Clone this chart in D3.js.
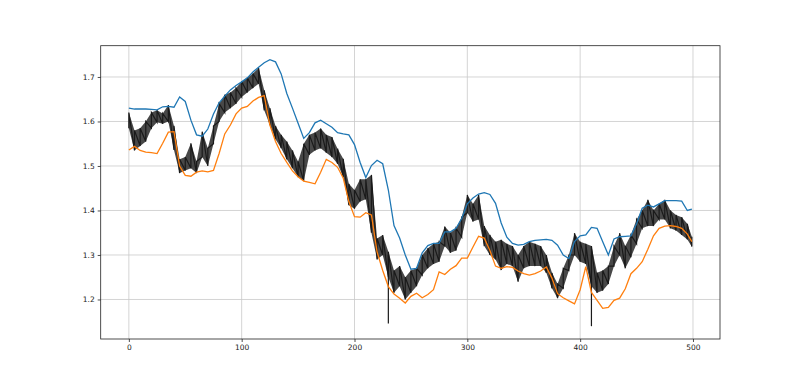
<!DOCTYPE html>
<html>
<head>
<meta charset="utf-8">
<script src="https://cdn.jsdelivr.net/npm/d3@7/dist/d3.min.js"></script>
<style>
  html, body { margin: 0; padding: 0; background: #fff; }
  svg { display: block; }
</style>
</head>
<body>
<svg id="chart" width="800" height="381"></svg>
<script>
// ---- data ----
const sampleIdx = [0,5,10,15,20,25,30,35,40,45,50,55,60,65,70,75,80,85,90,95,
  100,105,110,115,120,125,130,135,140,145,150,155,160,165,170,175,180,185,190,195,
  200,205,210,215,220,225,230,235,240,245,250,255,260,265,270,275,280,285,290,295,
  300,305,310,315,320,325,330,335,340,345,350,355,360,365,370,375,380,385,390,395,
  400,405,410,415,420,425,430,435,440,445,450,455,460,465,470,475,480,485,490,495,499];

const upperBand = [1.630,1.628,1.628,1.628,1.627,1.626,1.633,1.634,1.632,1.655,
  1.645,1.603,1.570,1.567,1.583,1.617,1.642,1.657,1.671,1.681,
  1.689,1.698,1.711,1.722,1.732,1.739,1.734,1.707,1.663,1.630,
  1.596,1.562,1.575,1.597,1.603,1.595,1.587,1.575,1.572,1.570,
  1.548,1.508,1.474,1.501,1.513,1.505,1.446,1.366,1.338,1.300,
  1.268,1.270,1.305,1.321,1.326,1.326,1.352,1.352,1.360,1.382,
  1.415,1.428,1.437,1.440,1.436,1.416,1.372,1.340,1.326,1.322,
  1.324,1.330,1.333,1.334,1.335,1.333,1.322,1.300,1.292,1.330,
  1.343,1.345,1.362,1.360,1.330,1.300,1.336,1.341,1.342,1.343,
  1.370,1.405,1.412,1.408,1.415,1.422,1.422,1.422,1.421,1.400,1.403];

const lowerBand = [1.536,1.544,1.535,1.531,1.530,1.528,1.551,1.576,1.577,1.500,
  1.479,1.477,1.486,1.489,1.487,1.490,1.528,1.572,1.592,1.617,
  1.630,1.634,1.646,1.654,1.658,1.592,1.555,1.528,1.508,1.489,
  1.476,1.466,1.463,1.460,1.486,1.515,1.508,1.497,1.473,1.420,
  1.386,1.385,1.395,1.390,1.307,1.265,1.229,1.212,1.203,1.192,
  1.207,1.214,1.204,1.211,1.222,1.262,1.256,1.268,1.276,1.293,
  1.293,1.318,1.342,1.338,1.310,1.275,1.270,1.274,1.272,1.264,
  1.258,1.255,1.258,1.264,1.273,1.248,1.213,1.204,1.197,1.190,
  1.222,1.274,1.216,1.198,1.180,1.182,1.198,1.203,1.224,1.258,
  1.270,1.285,1.313,1.343,1.360,1.365,1.366,1.364,1.360,1.347,1.330];

const priceHigh = [1.620,1.580,1.585,1.600,1.620,1.625,1.618,1.637,1.590,1.515,
  1.520,1.551,1.510,1.577,1.540,1.590,1.640,1.660,1.665,1.675,
  1.690,1.698,1.708,1.720,1.670,1.630,1.590,1.570,1.555,1.535,
  1.510,1.550,1.570,1.575,1.584,1.570,1.565,1.539,1.516,1.460,
  1.446,1.470,1.470,1.480,1.337,1.345,1.307,1.265,1.275,1.250,
  1.265,1.270,1.300,1.315,1.325,1.330,1.364,1.350,1.360,1.385,
  1.435,1.415,1.435,1.365,1.345,1.330,1.334,1.325,1.320,1.300,
  1.320,1.330,1.325,1.320,1.300,1.260,1.235,1.270,1.300,1.349,
  1.330,1.325,1.320,1.260,1.265,1.275,1.320,1.349,1.320,1.345,
  1.380,1.400,1.424,1.400,1.415,1.424,1.400,1.390,1.385,1.370,1.341];

const priceLow = [1.585,1.535,1.545,1.555,1.585,1.598,1.595,1.600,1.536,1.484,
  1.490,1.495,1.484,1.520,1.500,1.550,1.600,1.620,1.630,1.640,
  1.655,1.665,1.675,1.685,1.625,1.592,1.560,1.540,1.515,1.495,
  1.475,1.466,1.525,1.535,1.540,1.530,1.520,1.505,1.475,1.412,
  1.404,1.420,1.425,1.350,1.290,1.300,1.250,1.215,1.230,1.200,
  1.215,1.230,1.255,1.270,1.280,1.285,1.320,1.305,1.310,1.340,
  1.395,1.375,1.380,1.320,1.300,1.290,1.266,1.280,1.275,1.240,
  1.270,1.275,1.275,1.275,1.260,1.225,1.203,1.225,1.265,1.300,
  1.285,1.280,1.230,1.215,1.220,1.235,1.275,1.300,1.270,1.295,
  1.325,1.360,1.365,1.365,1.380,1.380,1.360,1.355,1.345,1.335,1.319];

// long lower wicks
const wickIdx = [230, 410];
const wickLow = [1.146, 1.140];
const wickTop = [1.300, 1.300];

const xTicks = [0, 100, 200, 300, 400, 500];
const yTicks = [1.2, 1.3, 1.4, 1.5, 1.6, 1.7];

// ---- layout ----
const svg = d3.select("#chart");
const L = 100.7, R = 720, T = 45.7, B = 339;

const x = d3.scaleLinear().domain([-24.95, 523.95]).range([L, R]);
const y = d3.scaleLinear().domain([1.1112, 1.7703]).range([B, T]);

// grid
const grid = svg.append("g");
grid.selectAll("line.gx").data(xTicks).join("line")
  .attr("x1", d => x(d)).attr("x2", d => x(d)).attr("y1", T).attr("y2", B)
  .attr("stroke", "#c9c9c9").attr("stroke-width", 0.8);
grid.selectAll("line.gy").data(yTicks).join("line")
  .attr("y1", d => y(d)).attr("y2", d => y(d)).attr("x1", L).attr("x2", R)
  .attr("stroke", "#c9c9c9").attr("stroke-width", 0.8);

const plot = svg.append("g");

// price range band
const priceArea = d3.area()
  .x((d, k) => x(sampleIdx[k]))
  .y0((d, k) => y(priceLow[k]))
  .y1((d, k) => y(priceHigh[k]));
plot.append("path").attr("d", priceArea(sampleIdx))
  .attr("fill", "#1a1a1a").attr("fill-opacity", 0.8).attr("stroke", "none");

// jagged trace: vertical range per sample, joined
const pricePts = [];
sampleIdx.forEach((d, k) => {
  pricePts.push([x(d), y(priceLow[k])]);
  pricePts.push([x(d), y(priceHigh[k])]);
});
plot.append("path")
  .attr("d", d3.line()(pricePts))
  .attr("fill", "none").attr("stroke", "#1a1a1a").attr("stroke-width", 1.2);

plot.selectAll("line.wick").data(wickIdx).join("line")
  .attr("x1", d => x(d)).attr("x2", d => x(d))
  .attr("y1", (d, k) => y(wickTop[k])).attr("y2", (d, k) => y(wickLow[k]))
  .attr("stroke", "#1a1a1a").attr("stroke-width", 1.2);

const bandLine = arr => d3.line().x((d, k) => x(sampleIdx[k])).y(d => y(d))(arr);
plot.append("path").attr("d", bandLine(upperBand))
  .attr("fill", "none").attr("stroke", "#1f77b4").attr("stroke-width", 1.3);
plot.append("path").attr("d", bandLine(lowerBand))
  .attr("fill", "none").attr("stroke", "#ff7f0e").attr("stroke-width", 1.3);

// axes
const xAxis = d3.axisBottom(x).tickValues(xTicks).tickSize(3).tickPadding(3).tickFormat(d3.format("d"));
const yAxis = d3.axisLeft(y).tickValues(yTicks).tickSize(3).tickPadding(3).tickFormat(d3.format(".1f"));

const gx = svg.append("g").attr("transform", `translate(0,${B})`).call(xAxis);
const gy = svg.append("g").attr("transform", `translate(${L},0)`).call(yAxis);
[gx, gy].forEach(g => {
  g.select(".domain").remove();
  g.selectAll("text").attr("font-family", "DejaVu Sans").attr("font-size", 7.5).attr("fill", "#222");
  g.selectAll("line").attr("stroke", "#222").attr("stroke-width", 0.8);
});

// frame
svg.append("rect").attr("x", L).attr("y", T).attr("width", R - L).attr("height", B - T)
  .attr("fill", "none").attr("stroke", "#222").attr("stroke-width", 0.8);
</script>
</body>
</html>
